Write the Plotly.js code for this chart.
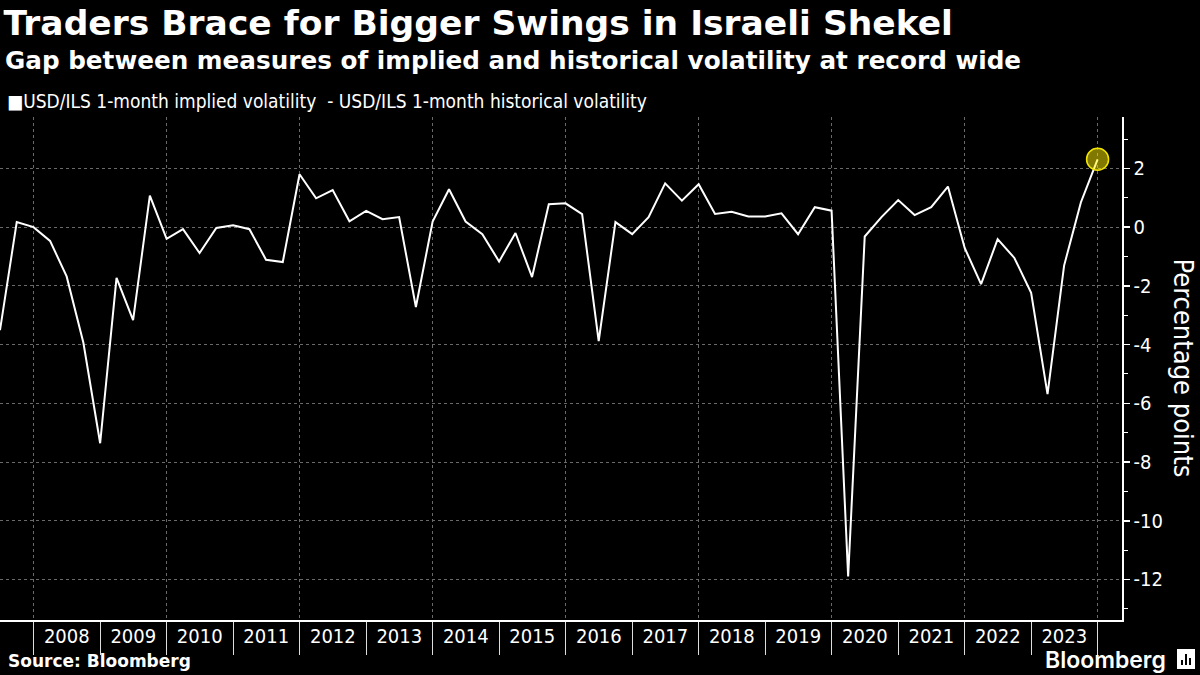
<!DOCTYPE html>
<html>
<head>
<meta charset="utf-8">
<script src="https://cdn.plot.ly/plotly-3.0.1.min.js"></script>
<style>
  html, body { margin: 0; padding: 0; background: #000; }
  #chart { width: 1200px; height: 675px; }
</style>
</head>
<body>
<div id="chart"></div>
<script>
// Quarterly observation dates
const dates = [
  '2007-07-01','2007-10-01',
  '2008-01-01','2008-04-01','2008-07-01','2008-10-01',
  '2009-01-01','2009-04-01','2009-07-01','2009-10-01',
  '2010-01-01','2010-04-01','2010-07-01','2010-10-01',
  '2011-01-01','2011-04-01','2011-07-01','2011-10-01',
  '2012-01-01','2012-04-01','2012-07-01','2012-10-01',
  '2013-01-01','2013-04-01','2013-07-01','2013-10-01',
  '2014-01-01','2014-04-01','2014-07-01','2014-10-01',
  '2015-01-01','2015-04-01','2015-07-01','2015-10-01',
  '2016-01-01','2016-04-01','2016-07-01','2016-10-01',
  '2017-01-01','2017-04-01','2017-07-01','2017-10-01',
  '2018-01-01','2018-04-01','2018-07-01','2018-10-01',
  '2019-01-01','2019-04-01','2019-07-01','2019-10-01',
  '2020-01-01','2020-04-01','2020-07-01','2020-10-01',
  '2021-01-01','2021-04-01','2021-07-01','2021-10-01',
  '2022-01-01','2022-04-01','2022-07-01','2022-10-01',
  '2023-01-01','2023-04-01','2023-07-01','2023-10-01',
  '2024-01-01'
];

// Implied minus historical volatility, percentage points
const spread = [
  -3.51, 0.17,
  0.00, -0.47, -1.68, -3.94,
  -7.36, -1.73, -3.17, 1.07,
  -0.40, -0.07, -0.88, -0.03,
  0.06, -0.07, -1.11, -1.19,
  1.80, 0.98, 1.26, 0.20,
  0.55, 0.27, 0.34, -2.72,
  0.19, 1.29, 0.19, -0.24,
  -1.17, -0.20, -1.70, 0.78,
  0.81, 0.44, -3.88, 0.17,
  -0.24, 0.34, 1.49, 0.90,
  1.46, 0.45, 0.52, 0.36,
  0.36, 0.47, -0.24, 0.68,
  0.56, -11.90, -0.32, 0.34,
  0.92, 0.41, 0.68, 1.38,
  -0.71, -1.94, -0.41, -1.05,
  -2.24, -5.69, -1.31, 0.84,
  2.31
];

// Year labels (placed mid-year) and year boundaries
const yearLabels = ['2008','2009','2010','2011','2012','2013','2014','2015',
                    '2016','2017','2018','2019','2020','2021','2022','2023'];
const yearMids = yearLabels.map(y => y + '-07-02');

const yTickVals = [2, 0, -2, -4, -6, -8, -10, -12];
const yTickText = ['2', '0', '-2', '-4', '-6', '-8', '-10', '-12'];

const titleText = 'Traders Brace for Bigger Swings in Israeli Shekel';
const subtitleText = 'Gap between measures of implied and historical volatility at record wide';
const legendText = '\u25A0USD/ILS 1-month implied volatility  - USD/ILS 1-month historical volatility';
const yTitleText = 'Percentage points';
const sourceText = 'Source: Bloomberg';

const last = dates.length - 1;

const traces = [
  {
    x: dates, y: spread, type: 'scatter', mode: 'lines',
    line: { color: '#ffffff', width: 2 },
    hoverinfo: 'x+y', showlegend: false, cliponaxis: false
  },
  {
    x: [dates[last]], y: [spread[last]], type: 'scatter', mode: 'markers',
    marker: { size: 22, color: 'rgba(255,240,0,0.5)', line: { color: '#f2e600', width: 1.5 } },
    hoverinfo: 'skip', showlegend: false
  },
  {
    x: dates, y: spread, xaxis: 'x2', type: 'scatter', mode: 'lines',
    line: { color: 'rgba(0,0,0,0)', width: 0 }, hoverinfo: 'skip', showlegend: false
  }
];

const F = 'DejaVu Sans Condensed, DejaVu Sans, sans-serif';
const FB = 'DejaVu Sans, sans-serif';

const layout = {
  width: 1200, height: 675,
  paper_bgcolor: '#000000', plot_bgcolor: '#000000',
  margin: { l: 0, r: 78, t: 117, b: 55, pad: 0 },
  showlegend: false,
  title: {
    text: '<b>' + titleText + '</b>',
    font: { family: FB, size: 34.5, color: '#ffffff' },
    x: 0.003, xanchor: 'left', xref: 'container',
    y: 0.984, yanchor: 'top', yref: 'container'
  },
  xaxis: {
    type: 'date',
    range: ['2007-07-01', '2024-05-14'],
    tickmode: 'linear', tick0: '2008-01-01', dtick: 'M24',
    showticklabels: false,
    ticks: 'outside', ticklen: 33, tickwidth: 1, tickcolor: '#dddddd',
    showgrid: true, gridcolor: '#6a6a6a', gridwidth: 1, griddash: '3px,3px',
    minor: { tick0: '2008-01-01', dtick: 'M12', ticks: 'outside', ticklen: 33,
             tickwidth: 1, tickcolor: '#dddddd', showgrid: false },
    showline: true, linecolor: '#ffffff', linewidth: 1.5,
    zeroline: false, fixedrange: true
  },
  xaxis2: {
    type: 'date', overlaying: 'x', matches: 'x', anchor: 'y', side: 'bottom',
    tickmode: 'array', tickvals: yearMids, ticktext: yearLabels,
    ticks: '', showgrid: false, showline: false, zeroline: false,
    tickfont: { family: F, size: 20, color: '#ffffff' },
    ticklabelstandoff: 2
  },
  yaxis: {
    side: 'right',
    range: [-13.38, 3.75],
    tickmode: 'array', tickvals: yTickVals, ticktext: yTickText,
    ticks: 'outside', ticklen: 6, tickwidth: 1.5, tickcolor: '#ffffff',
    minor: { dtick: 1, ticks: 'outside', ticklen: 4, tickwidth: 1, tickcolor: '#ffffff', showgrid: false },
    tickfont: { family: F, size: 20, color: '#ffffff' },
    showgrid: true, gridcolor: '#6a6a6a', gridwidth: 1, griddash: '3px,3px',
    showline: true, linecolor: '#ffffff', linewidth: 1.5,
    zeroline: false, fixedrange: true
  },
  annotations: [
    { text: '<b>' + subtitleText + '</b>', xref: 'paper', yref: 'paper',
      x: 0, y: 1.0, xshift: 3, yshift: 57, xanchor: 'left', yanchor: 'middle', showarrow: false,
      font: { family: FB, size: 24.7, color: '#ffffff' } },
    { text: legendText, xref: 'paper', yref: 'paper',
      x: 0, y: 1.0, xshift: 5, yshift: 16, xanchor: 'left', yanchor: 'middle', showarrow: false,
      font: { family: F, size: 19, color: '#ffffff' } },
    { text: yTitleText, xref: 'paper', yref: 'paper', textangle: 90,
      x: 1.0, y: 0.5, xshift: 61, yshift: 1, xanchor: 'center', yanchor: 'middle', showarrow: false,
      font: { family: F, size: 27, color: '#ffffff' } },
    { text: '<b>' + sourceText + '</b>', xref: 'paper', yref: 'paper',
      x: 0, y: 0, xshift: 6, yshift: -41, xanchor: 'left', yanchor: 'middle', showarrow: false,
      font: { family: FB, size: 17, color: '#ffffff' } },
    { text: 'Bloomberg', xref: 'paper', yref: 'paper',
      x: 1.0, y: 0, xshift: 46, yshift: -40, xanchor: 'right', yanchor: 'middle', showarrow: false,
      font: { family: 'Inter, Roboto, sans-serif', size: 23, color: '#ffffff', weight: 600 } }
  ],
  shapes: [
    // small Bloomberg icon
    { type: 'rect', xref: 'paper', yref: 'paper', xsizemode: 'pixel', ysizemode: 'pixel',
      xanchor: 1.0, yanchor: 0, x0: 55, x1: 73, y0: -29, y1: -49,
      fillcolor: '#ffffff', line: { width: 0 } },
    { type: 'rect', xref: 'paper', yref: 'paper', xsizemode: 'pixel', ysizemode: 'pixel',
      xanchor: 1.0, yanchor: 0, x0: 59, x1: 61, y0: -40, y1: -45, fillcolor: '#000', line: { width: 0 } },
    { type: 'rect', xref: 'paper', yref: 'paper', xsizemode: 'pixel', ysizemode: 'pixel',
      xanchor: 1.0, yanchor: 0, x0: 63, x1: 65, y0: -34, y1: -45, fillcolor: '#000', line: { width: 0 } },
    { type: 'rect', xref: 'paper', yref: 'paper', xsizemode: 'pixel', ysizemode: 'pixel',
      xanchor: 1.0, yanchor: 0, x0: 67, x1: 69, y0: -38, y1: -45, fillcolor: '#000', line: { width: 0 } }
  ]
};

Plotly.newPlot('chart', traces, layout, { displayModeBar: false, staticPlot: true });
</script>
</body>
</html>
